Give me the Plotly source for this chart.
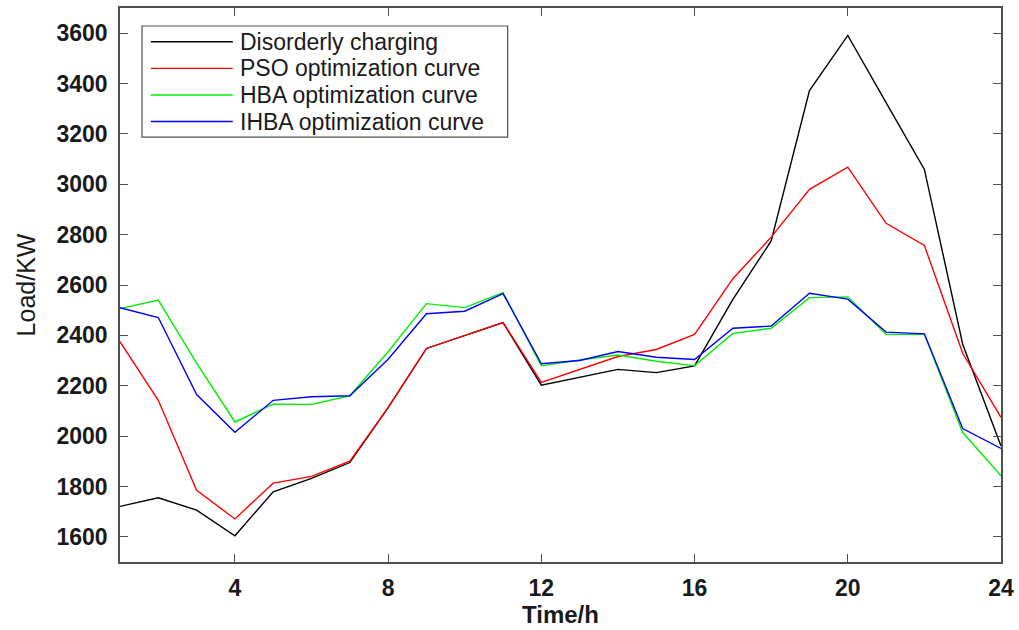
import plotly.graph_objects as go

hours = list(range(1, 25))
series_names = ["Disorderly charging", "PSO optimization curve",
                "HBA optimization curve", "IHBA optimization curve"]
disorderly = [1721, 1755, 1706, 1604, 1779, 1832, 1895, 2113, 2348, 2400, 2451, 2202,
              2232, 2265, 2252, 2279, 2543, 2775, 3372, 3591, 3324, 3059, 2365, 1961]
pso = [2375, 2142, 1785, 1671, 1813, 1840, 1900, 2113, 2348, 2400, 2451, 2213,
       2265, 2316, 2344, 2404, 2625, 2790, 2980, 3068, 2845, 2757, 2329, 2074]
hba = [2506, 2540, 2290, 2056, 2127, 2126, 2160, 2335, 2526, 2510, 2570, 2279,
       2302, 2322, 2297, 2279, 2408, 2428, 2550, 2553, 2404, 2404, 2014, 1842]
ihba = [2510, 2471, 2165, 2015, 2142, 2156, 2160, 2305, 2486, 2496, 2566, 2287,
        2300, 2336, 2313, 2304, 2428, 2437, 2567, 2544, 2413, 2406, 2030, 1951]
colors = ["#000000", "#ff0000", "#00ee00", "#0000ff"]
x_ticks = [4, 8, 12, 16, 20, 24]
y_ticks = [1600, 1800, 2000, 2200, 2400, 2600, 2800, 3000, 3200, 3400, 3600]

fig = go.Figure()
for name, ys, c in zip(series_names, [disorderly, pso, hba, ihba], colors):
    fig.add_trace(go.Scatter(x=hours, y=ys, mode="lines", name=name,
                             line=dict(color=c, width=1.4), showlegend=False))

axis_col = "#505050"
fig.update_layout(
    width=1019, height=630,
    margin=dict(l=120, r=18, t=8, b=68, autoexpand=False),
    paper_bgcolor="white", plot_bgcolor="white",
    font=dict(family="Liberation Sans, Arial, sans-serif", color="#1a1a1a"),
    xaxis=dict(range=[1, 24], tickvals=x_ticks, ticks="inside", ticklen=8,
               tickcolor=axis_col, showline=True, linecolor=axis_col, linewidth=1.5,
               mirror="ticks", showgrid=False, zeroline=False, automargin=False,
               tickfont=dict(size=23, family="Liberation Sans, Arial", weight="bold"),
               ticklabelstandoff=5,
               title=dict(text="Time/h", standoff=2,
                          font=dict(size=24, family="Liberation Sans, Arial", weight="bold"))),
    yaxis=dict(range=[1500, 3700], tickvals=y_ticks, ticks="inside", ticklen=8,
               tickcolor=axis_col, showline=True, linecolor=axis_col, linewidth=1.5,
               mirror="ticks", showgrid=False, zeroline=False, automargin=False,
               tickfont=dict(size=23, family="Liberation Sans, Arial", weight="bold"),
               ticklabelstandoff=6,
               title=dict(text="Load/KW", standoff=14,
                          font=dict(size=25, family="Liberation Sans, Arial"))),
)

# Legend box (drawn manually to match the long line samples)
fig.add_shape(type="rect", xref="paper", yref="paper", x0=0.025, x1=0.440,
              y0=0.767, y1=0.9675, line=dict(color=axis_col, width=1.2),
              fillcolor="white", layer="above")
row_y = [0.939, 0.891, 0.843, 0.795]
for name, c, yy in zip(series_names, colors, row_y):
    fig.add_shape(type="line", xref="paper", yref="paper", x0=0.035, x1=0.128,
                  y0=yy, y1=yy, line=dict(color=c, width=1.4), layer="above")
    fig.add_annotation(xref="paper", yref="paper", x=0.134, y=yy, text=name,
                       showarrow=False, xanchor="left", yanchor="middle",
                       font=dict(size=23, family="Liberation Sans, Arial", color="#1a1a1a"))

fig.write_html("out.html", config={"displayModeBar": False},
               post_script="document.body.style.margin='0';document.body.style.overflow='hidden';")
